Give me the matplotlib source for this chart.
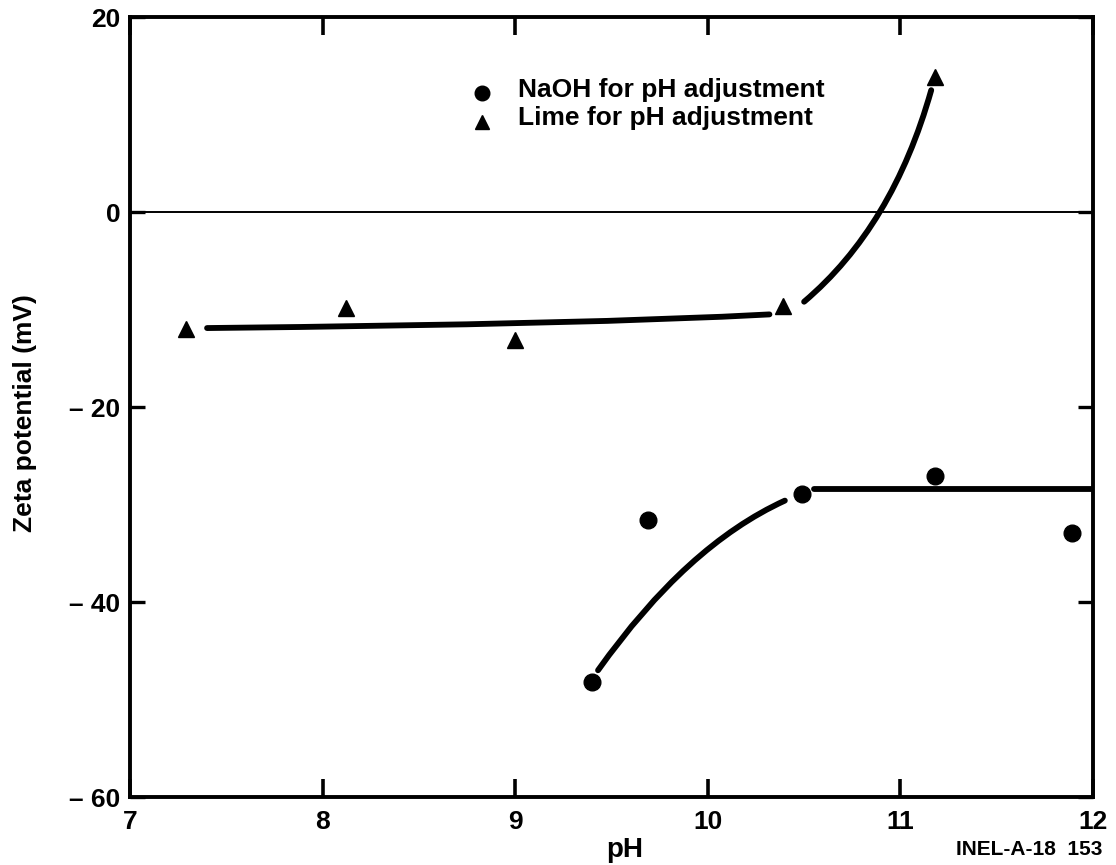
import matplotlib
matplotlib.use("Agg")
import matplotlib.pyplot as plt
from matplotlib.path import Path
from matplotlib.patches import PathPatch

# Measured zeta potential vs pH
naoh_ph = [9.40, 9.69, 10.49, 11.18, 11.89]
naoh_zeta = [-48.2, -31.6, -28.9, -27.1, -32.9]
lime_ph = [7.29, 8.12, 9.00, 10.39, 11.18]
lime_zeta = [-12.0, -9.8, -13.1, -9.6, 13.9]

# Hand-fitted trend curves (quadratic Bezier: start, control, end)
lime_fit_low = [(7.40, -11.9), (9.40, -11.5), (10.32, -10.5)]
lime_fit_high = [(10.50, -9.2), (10.96, -1.5), (11.16, 12.5)]
naoh_fit_low = [(9.43, -47.0), (9.89, -34.2), (10.40, -29.6)]
naoh_fit_flat = [(10.55, -28.4), (12.0, -28.4)]

x_ticks = [7, 8, 9, 10, 11, 12]
y_ticks = [-60, -40, -20, 0, 20]
y_tick_labels = ["\u2013 60", "\u2013 40", "\u2013 20", "0", "20"]
legend_labels = ["NaOH for pH adjustment", "Lime for pH adjustment"]

plt.rcParams["font.family"] = ["Liberation Sans", "DejaVu Sans"]
plt.rcParams["font.weight"] = "bold"

fig = plt.figure(figsize=(11.16, 8.65), dpi=100)
ax = fig.add_axes([0.1165, 0.0786, 0.8629, 0.9017])

ax.set_xlim(7, 12)
ax.set_ylim(-60, 20)

# zero reference line
ax.axhline(0, color="black", lw=1.4, zorder=1)


def draw_curve(pts, lw=4.2):
    if len(pts) == 3:
        codes = [Path.MOVETO, Path.CURVE3, Path.CURVE3]
    else:
        codes = [Path.MOVETO] + [Path.LINETO] * (len(pts) - 1)
    patch = PathPatch(Path(pts, codes), fill=False, lw=lw, edgecolor="black",
                      capstyle="round", joinstyle="round", zorder=2)
    ax.add_patch(patch)


for curve in (lime_fit_low, lime_fit_high, naoh_fit_low, naoh_fit_flat):
    draw_curve(curve)

ax.plot(naoh_ph, naoh_zeta, "o", color="black", ms=12, ls="none", zorder=3)
ax.plot(lime_ph, lime_zeta, "^", color="black", ms=11, ls="none", zorder=3)

for s in ax.spines.values():
    s.set_linewidth(2.8)

ax.set_xticks(x_ticks)
ax.set_xticklabels([str(v) for v in x_ticks])
ax.set_yticks(y_ticks)
ax.set_yticklabels(y_tick_labels)
ax.tick_params(axis="x", direction="in", length=13, width=2.6, top=True,
               labelsize=19, pad=9)
ax.tick_params(axis="y", direction="in", length=11, width=2.4, right=True,
               labelsize=19, pad=7)
for lab in ax.get_xticklabels() + ax.get_yticklabels():
    lab.set_fontweight("bold")

ax.set_xlabel("pH", fontsize=20, fontweight="bold")
ax.xaxis.set_label_coords(0.514, -0.051)
ax.set_ylabel("Zeta potential (mV)", fontsize=19, fontweight="bold")
ax.yaxis.set_label_coords(-0.097, 0.492)

# key, drawn in axes coordinates
key_markers = ["o", "^"]
key_marker_y = [0.9026, 0.866]
key_text_y = [0.8974, 0.862]
for m, my, ty, lab in zip(key_markers, key_marker_y, key_text_y, legend_labels):
    ax.plot([0.3655], [my], marker=m, color="black", ms=10.5, ls="none",
            transform=ax.transAxes, clip_on=False)
    ax.text(0.403, ty, lab, transform=ax.transAxes, fontsize=19,
            fontweight="bold", ha="left", va="baseline")

fig.text(0.988, 0.012, "INEL-A-18  153", ha="right", va="baseline",
         fontsize=15, fontweight="bold")

fig.savefig("out.png", dpi=100)
